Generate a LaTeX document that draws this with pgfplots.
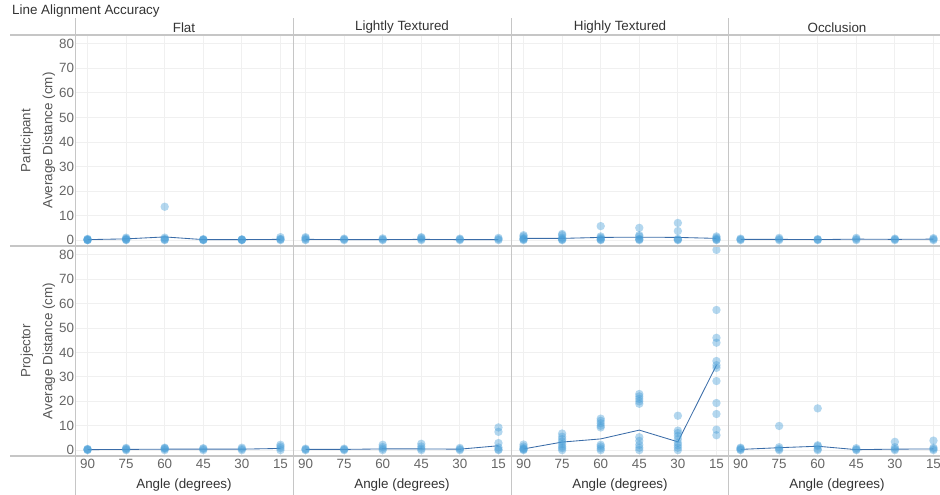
\documentclass[border=0pt]{standalone}
\usepackage{pgfplots}
\pgfplotsset{compat=1.18}
\usepackage{fontspec}
\setmainfont{Liberation Sans}
\definecolor{pt}{HTML}{4A9FD8}
\definecolor{ln}{HTML}{3A6CA8}
\definecolor{sep}{HTML}{C6C6C6}
\definecolor{grd}{HTML}{F0F0F0}
\definecolor{tk}{HTML}{666666}
\definecolor{tx}{HTML}{333333}
\definecolor{ax}{HTML}{555555}
\newcommand{\fs}{\fontsize{13.4}{16}\selectfont}
\pgfplotsset{
  panel/.style={
    scale only axis, width=218pt, anchor=south west,
    xmin=-0.325, xmax=5.325, ymin=-2.4, ymax=83.6,
    axis line style={draw=none},
    xtick={0,...,5}, ytick={0,10,...,80},
    major tick length=0pt,
    grid=major, major grid style={grd, line width=0.8pt},
    extra y ticks={0}, extra y tick labels={},
    extra y tick style={grid style={sep, line width=1.3pt}},
    xticklabels={}, yticklabels={},
    tick label style={font=\fs, text=tk},
    clip=false,
  },
  toprow/.style={panel, height=211pt},
  botrow/.style={panel, height=210pt, xticklabels={90,75,60,45,30,15}},
  firstcol/.style={yticklabels={0,10,20,30,40,50,60,70,80}, yticklabel style={xshift=2.5pt}},
  pts/.style={only marks, mark=*, color=pt, mark size=4.2pt, mark options={solid, draw opacity=0, fill=pt, fill opacity=0.42}},
  mean/.style={ln, line width=0.85pt, no marks},
}
\begin{document}
\begin{tikzpicture}[x=1pt,y=1pt]
\clip (0,0) rectangle (940,495);
% ---------- Top row: Participant ----------
\begin{axis}[toprow, firstcol, at={(75pt,249pt)}]
\addplot[pts] coordinates {(0,0) (0,0.1) (0,0.3) (0,0.5) (0,0)
 (1,0) (1,0.3) (1,0.6) (1,1) (1,0.2)
 (2,13.6) (2,1) (2,0.5) (2,0) (2,0.2)
 (3,0) (3,0.2) (3,0.4) (3,0.1)
 (4,0) (4,0.2) (4,0.3) (4,0.1)
 (5,0) (5,0.5) (5,1.2) (5,0.3)};
\addplot[mean] coordinates {(0,0.2) (1,0.5) (2,1.3) (3,0.2) (4,0.2) (5,0.3)};
\end{axis}
\begin{axis}[toprow, at={(293pt,249pt)}]
\addplot[pts] coordinates {(0,0) (0,0.3) (0,0.8) (0,1.2)
 (1,0) (1,0.3) (1,0.6)
 (2,0) (2,0.3) (2,0.7)
 (3,0) (3,0.4) (3,0.9) (3,1.2)
 (4,0) (4,0.3) (4,0.6)
 (5,0) (5,0.4) (5,0.9)};
\addplot[mean] coordinates {(0,0.3) (1,0.2) (2,0.2) (3,0.3) (4,0.2) (5,0.2)};
\end{axis}
\begin{axis}[toprow, at={(511pt,249pt)}]
\addplot[pts] coordinates {(0,0) (0,0.3) (0,0.8) (0,1.5) (0,2) (0,0.5)
 (1,0) (1,0.5) (1,1) (1,2) (1,2.5) (1,0.2)
 (2,5.7) (2,1.5) (2,1) (2,0.5) (2,0) (2,0.2)
 (3,5) (3,2) (3,1.5) (3,0.5) (3,0) (3,0.3)
 (4,7) (4,3.7) (4,0) (4,0.2) (4,0.5)
 (5,1.5) (5,1) (5,0.5) (5,0) (5,0.2)};
\addplot[mean] coordinates {(0,0.7) (1,0.7) (2,1.1) (3,1.2) (4,1.1) (5,0.7)};
\end{axis}
\begin{axis}[toprow, at={(728pt,249pt)}]
\addplot[pts] coordinates {(0,0) (0,0.3) (0,0.6)
 (1,0) (1,0.4) (1,0.9)
 (2,0) (2,0.2) (2,0.4)
 (3,0) (3,0.4) (3,0.9)
 (4,0) (4,0.3) (4,0.6)
 (5,0) (5,0.4) (5,0.8)};
\addplot[mean] coordinates {(0,0.3) (1,0.3) (2,0.2) (3,0.4) (4,0.3) (5,0.4)};
\end{axis}
% ---------- Bottom row: Projector ----------
\begin{axis}[botrow, firstcol, at={(75pt,39pt)}]
\addplot[pts] coordinates {(0,0) (0,0.2) (0,0.5) (0,0.3)
 (1,0) (1,0.3) (1,0.6) (1,0.9)
 (2,0) (2,0.5) (2,1) (2,0.8)
 (3,0) (3,0.5) (3,0.8)
 (4,0) (4,0.5) (4,1)
 (5,0) (5,0.8) (5,1.5) (5,2.2)};
\addplot[mean] coordinates {(0,0.2) (1,0.3) (2,0.4) (3,0.4) (4,0.4) (5,0.7)};
\end{axis}
\begin{axis}[botrow, at={(293pt,39pt)}]
\addplot[pts] coordinates {(0,0) (0,0.3) (0,0.6)
 (1,0) (1,0.3) (1,0.6)
 (2,0) (2,0.6) (2,1.3) (2,2.2)
 (3,0) (3,0.6) (3,1.5) (3,2.6)
 (4,0) (4,0.4) (4,0.9)
 (5,9.3) (5,7.5) (5,2.9) (5,1.1) (5,0.3) (5,0)};
\addplot[mean] coordinates {(0,0.3) (1,0.3) (2,0.5) (3,0.5) (4,0.4) (5,1.8)};
\end{axis}
\begin{axis}[botrow, at={(511pt,39pt)}]
\addplot[pts] coordinates {(0,0) (0,0.3) (0,0.8) (0,1.5) (0,2.3) (0,0.5)
 (1,0) (1,0.8) (1,1.5) (1,2.5) (1,3.5) (1,4.5) (1,5.5) (1,6.8)
 (2,12.9) (2,12) (2,11) (2,10) (2,9.3) (2,0) (2,0.7) (2,1.5) (2,2.2)
 (3,23) (3,22) (3,21) (3,20) (3,19) (3,5.3) (3,3.8) (3,2.2) (3,1) (3,0)
 (4,14.1) (4,8) (4,7) (4,5.8) (4,4.5) (4,3) (4,2) (4,1) (4,0)
 (5,82) (5,57.4) (5,46) (5,44) (5,36.5) (5,34.8) (5,33.7) (5,28.3) (5,19.3) (5,14.8) (5,8.4) (5,6.1)};
\addplot[mean] coordinates {(0,0.5) (1,3.3) (2,4.6) (3,8.2) (4,3.4) (5,34.8)};
\end{axis}
\begin{axis}[botrow, at={(728pt,39pt)}]
\addplot[pts] coordinates {(0,0) (0,0.3) (0,0.7) (0,1)
 (1,9.9) (1,0) (1,0.5) (1,1.2)
 (2,17.1) (2,1.6) (2,2) (2,0.5) (2,0)
 (3,0) (3,0.3) (3,0.8)
 (4,3.4) (4,0) (4,0.5) (4,1.2)
 (5,3.9) (5,0) (5,0.5) (5,1)};
\addplot[mean] coordinates {(0,0.3) (1,1.0) (2,1.6) (3,0.2) (4,0.4) (5,0.5)};
\end{axis}
% ---------- Separators ----------
\draw[sep, line width=1.2pt] (10,460) -- (940,460);
\draw[sep, line width=1.2pt] (10,249) -- (940,249);
\draw[sep, line width=1.2pt] (10,39) -- (940,39);
\foreach \xx in {75,293,511,728} {\draw[sep, line width=1pt] (\xx,0) -- (\xx,477);}
% ---------- Texts ----------
\node[anchor=west, text=tx, font=\fs, inner sep=0] at (12,483.5) {Line Alignment Accuracy};
\node[text=tx, font=\fs, inner sep=0] at (184,467.5) {Flat};
\node[text=tx, font=\fs, inner sep=0] at (402,467.5) {Lightly Textured};
\node[text=tx, font=\fs, inner sep=0] at (620,467.5) {Highly Textured};
\node[text=tx, font=\fs, inner sep=0] at (837,467.5) {Occlusion};
\node[rotate=90, text=ax, font=\fs, inner sep=0] at (27,354.5) {Participant};
\node[rotate=90, text=ax, font=\fs, inner sep=0] at (49,354.5) {Average Distance (cm)};
\node[rotate=90, text=ax, font=\fs, inner sep=0] at (27,144) {Projector};
\node[rotate=90, text=ax, font=\fs, inner sep=0] at (49,144) {Average Distance (cm)};
\foreach \cx in {184,402,620,837} {\node[text=tx, font=\fs, inner sep=0] at (\cx,9.5) {Angle (degrees)};}
\end{tikzpicture}
\end{document}
